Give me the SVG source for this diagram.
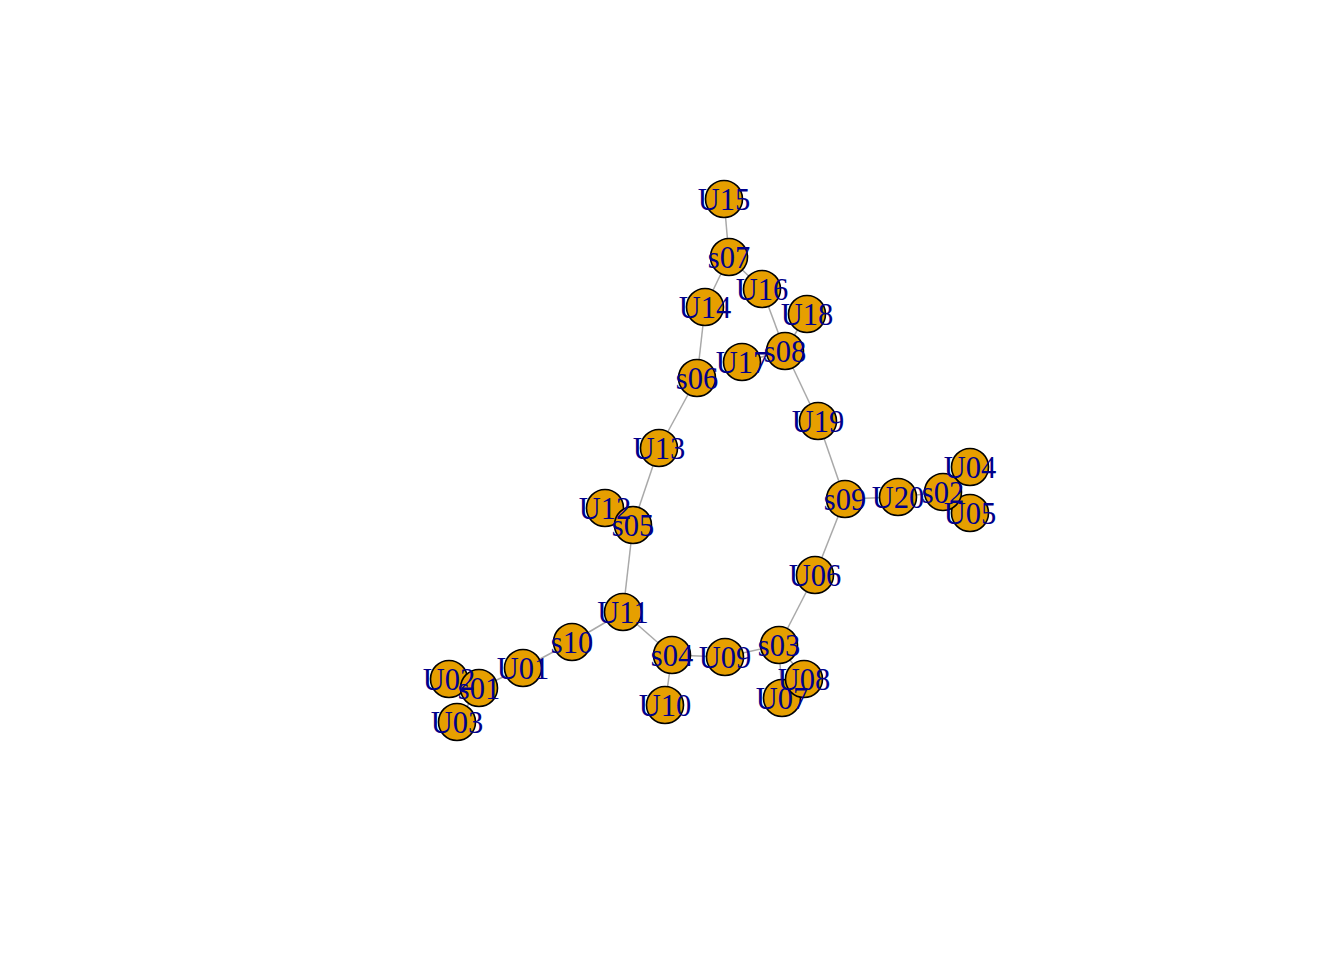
<svg xmlns="http://www.w3.org/2000/svg" width="1344" height="960" viewBox="0 0 1344 960">
<style>
.e{stroke:#A9A9A9;stroke-width:1.5;fill:none}
.n circle{fill:#E69F00;stroke:#000;stroke-width:1.6}
.l{font-family:"Liberation Serif","Times New Roman",serif;font-size:30.5px;fill:#00008B;text-anchor:middle}
</style>
<rect width="1344" height="960" fill="#fff"/>
<g id="edges" class="e">
<line x1="724" y1="199" x2="729" y2="257"/>
<line x1="729" y1="257" x2="705" y2="307"/>
<line x1="729" y1="257" x2="762" y2="289"/>
<line x1="762" y1="289" x2="785" y2="351"/>
<line x1="807" y1="314" x2="785" y2="351"/>
<line x1="742" y1="362" x2="785" y2="351"/>
<line x1="705" y1="307" x2="697" y2="378"/>
<line x1="697" y1="378" x2="659" y2="448"/>
<line x1="785" y1="351" x2="818" y2="421"/>
<line x1="818" y1="421" x2="845" y2="499"/>
<line x1="845" y1="499" x2="898" y2="497"/>
<line x1="898" y1="497" x2="943" y2="492"/>
<line x1="943" y1="492" x2="970" y2="467"/>
<line x1="943" y1="492" x2="970" y2="513"/>
<line x1="659" y1="448" x2="633" y2="525"/>
<line x1="605" y1="508" x2="633" y2="525"/>
<line x1="633" y1="525" x2="623" y2="612"/>
<line x1="845" y1="499" x2="815" y2="575"/>
<line x1="815" y1="575" x2="779" y2="645"/>
<line x1="623" y1="612" x2="572" y2="642"/>
<line x1="623" y1="612" x2="672" y2="655"/>
<line x1="572" y1="642" x2="523" y2="668"/>
<line x1="523" y1="668" x2="479" y2="688"/>
<line x1="479" y1="688" x2="449" y2="679"/>
<line x1="479" y1="688" x2="457" y2="722"/>
<line x1="672" y1="655" x2="725" y2="657"/>
<line x1="672" y1="655" x2="665" y2="705"/>
<line x1="725" y1="657" x2="779" y2="645"/>
<line x1="779" y1="645" x2="804" y2="679"/>
<line x1="779" y1="645" x2="782" y2="698"/>
</g>
<g class="n">
<g id="U01"><circle cx="523" cy="668" r="18.5"/></g>
<g id="U02"><circle cx="449" cy="679" r="18.5"/></g>
<g id="U03"><circle cx="457" cy="722" r="18.5"/></g>
<g id="U04"><circle cx="970" cy="467" r="18.5"/></g>
<g id="U05"><circle cx="970" cy="513" r="18.5"/></g>
<g id="U06"><circle cx="815" cy="575" r="18.5"/></g>
<g id="U07"><circle cx="782" cy="698" r="18.5"/></g>
<g id="U08"><circle cx="804" cy="679" r="18.5"/></g>
<g id="U09"><circle cx="725" cy="657" r="18.5"/></g>
<g id="U10"><circle cx="665" cy="705" r="18.5"/></g>
<g id="U11"><circle cx="623" cy="612" r="18.5"/></g>
<g id="U12"><circle cx="605" cy="508" r="18.5"/></g>
<g id="U13"><circle cx="659" cy="448" r="18.5"/></g>
<g id="U14"><circle cx="705" cy="307" r="18.5"/></g>
<g id="U15"><circle cx="724" cy="199" r="18.5"/></g>
<g id="U16"><circle cx="762" cy="289" r="18.5"/></g>
<g id="U17"><circle cx="742" cy="362" r="18.5"/></g>
<g id="U18"><circle cx="807" cy="314" r="18.5"/></g>
<g id="U19"><circle cx="818" cy="421" r="18.5"/></g>
<g id="U20"><circle cx="898" cy="497" r="18.5"/></g>
<g id="s01"><circle cx="479" cy="688" r="18.5"/></g>
<g id="s02"><circle cx="943" cy="492" r="18.5"/></g>
<g id="s03"><circle cx="779" cy="645" r="18.5"/></g>
<g id="s04"><circle cx="672" cy="655" r="18.5"/></g>
<g id="s05"><circle cx="633" cy="525" r="18.5"/></g>
<g id="s06"><circle cx="697" cy="378" r="18.5"/></g>
<g id="s07"><circle cx="729" cy="257" r="18.5"/></g>
<g id="s08"><circle cx="785" cy="351" r="18.5"/></g>
<g id="s09"><circle cx="845" cy="499" r="18.5"/></g>
<g id="s10"><circle cx="572" cy="642" r="18.5"/></g>
</g>
<g id="labels" class="l">
<text x="523" y="679">U01</text>
<text x="449" y="690">U02</text>
<text x="457" y="733">U03</text>
<text x="970" y="478">U04</text>
<text x="970" y="524">U05</text>
<text x="815" y="586">U06</text>
<text x="782" y="709">U07</text>
<text x="804" y="690">U08</text>
<text x="725" y="668">U09</text>
<text x="665" y="716">U10</text>
<text x="623" y="623">U11</text>
<text x="605" y="519">U12</text>
<text x="659" y="459">U13</text>
<text x="705" y="318">U14</text>
<text x="724" y="210">U15</text>
<text x="762" y="300">U16</text>
<text x="742" y="373">U17</text>
<text x="807" y="325">U18</text>
<text x="818" y="432">U19</text>
<text x="898" y="508">U20</text>
<text x="479" y="699">s01</text>
<text x="943" y="503">s02</text>
<text x="779" y="656">s03</text>
<text x="672" y="666">s04</text>
<text x="633" y="536">s05</text>
<text x="697" y="389">s06</text>
<text x="729" y="268">s07</text>
<text x="785" y="362">s08</text>
<text x="845" y="510">s09</text>
<text x="572" y="653">s10</text>
</g>
</svg>
